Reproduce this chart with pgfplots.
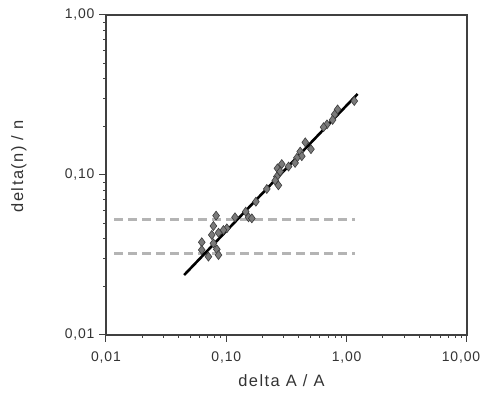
\documentclass[border=0pt]{standalone}
\usepackage{pgfplots}
\pgfplotsset{compat=1.18}
\usepackage{fontspec}
\setmainfont{Liberation Sans}
\newfontfamily\labelfont[LetterSpace=9]{Liberation Sans}
\newfontfamily\tickfont[LetterSpace=6]{Liberation Sans}
\definecolor{axgray}{HTML}{404040}
\definecolor{mfill}{HTML}{7A7A7A}
\definecolor{medge}{HTML}{3C3C3C}
\definecolor{dashgray}{HTML}{B4B4B4}
\begin{document}
\begin{tikzpicture}
\begin{axis}[
  scale only axis,
  width=361bp, height=320bp,
  xmode=log, ymode=log,
  xmin=0.01, xmax=10, ymin=0.01, ymax=1,
  xtick={0.01,0.1,1,10}, xticklabels={{0,01},{0,10},{1,00},{\hspace*{-12bp}10,00}},
  ytick={0.01,0.1,1}, yticklabels={{0,01},{0,10},{1,00}},
  minor tick num=0, minor xtick={}, minor ytick={},
  tick align=outside, tick pos=left,
  major tick length=7bp,
  axis line style={axgray, line width=1.3bp},
  every tick/.style={axgray, line width=1bp},
  ticklabel style={font=\tickfont\fontsize{14}{16}\selectfont, text=black!80},
  xticklabel style={yshift=-6bp},
  yticklabel style={xshift=-1bp},
  xlabel={delta A / A}, ylabel={delta(n) / n},
  label style={font=\labelfont\fontsize{16.5}{19}\selectfont, text=black!80},
  xlabel style={at={(axis description cs:0.486,-0.144)}, anchor=center},
  ylabel style={at={(axis description cs:-0.241,0.527)}, anchor=center},
]
\addplot[dashgray, line width=3bp, dash pattern=on 9bp off 5bp] coordinates {(0.0117,0.0524) (1.18,0.0524)};
\addplot[dashgray, line width=3bp, dash pattern=on 9bp off 5bp] coordinates {(0.0117,0.0324) (1.18,0.0324)};
\addplot[only marks, mark=diamond*, mark size=4.5bp, mark options={fill=mfill, draw=medge, line width=0.6bp}] coordinates {
(1.157,0.290) (0.841,0.257) (0.794,0.239) (0.764,0.221) (0.686,0.207) (0.643,0.199)
(0.453,0.160) (0.505,0.145) (0.411,0.140) (0.424,0.131) (0.386,0.128) (0.373,0.119)
(0.329,0.113) (0.289,0.117) (0.266,0.110) (0.280,0.105) (0.263,0.0977) (0.255,0.0922)
(0.271,0.0862) (0.217,0.0818) (0.176,0.0681) (0.145,0.0590) (0.153,0.0544) (0.163,0.0536)
(0.118,0.0544) (0.0822,0.0557) (0.101,0.0464) (0.0946,0.0453) (0.0781,0.0480) (0.0861,0.0436)
(0.0757,0.0422) (0.0625,0.0380) (0.0781,0.0374) (0.0625,0.0340) (0.0834,0.0343) (0.0710,0.0309)
(0.0861,0.0316)
};
\addplot[black, line width=2.6bp] coordinates {(0.0446,0.0237) (1.233,0.321)};
\end{axis}
\pgfresetboundingbox
\path (current axis.south west) ++(-106bp,-59bp) coordinate (bl);
\path (current axis.north east) ++(17bp,15bp) coordinate (tr);
\path (bl) rectangle (tr);
\end{tikzpicture}
\end{document}
